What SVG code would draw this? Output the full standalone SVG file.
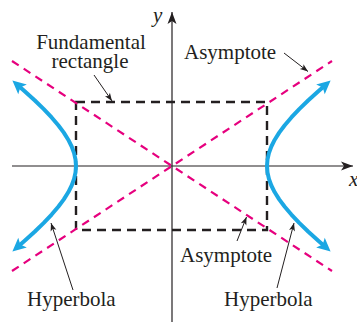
<svg xmlns="http://www.w3.org/2000/svg" width="357" height="322" viewBox="0 0 357 322">
<style>
  text{font-family:'Liberation Serif','Times New Roman','DejaVu Serif',serif;font-size:21px;fill:#231f20}
  .var{font-style:italic}
  .axis{stroke:#231f20;stroke-width:1.2;fill:none}
  .asym{stroke:#e6007e;stroke-width:2.2;stroke-dasharray:8 6;fill:none}
  .rect{stroke:#231f20;stroke-width:2.4;stroke-dasharray:9 6;fill:none}
  .hyp{stroke:#1ba7e3;stroke-width:4;fill:none;stroke-linejoin:round}
  .lead{stroke:#231f20;stroke-width:1;fill:none}
</style>
<defs>
  <marker id="axarrow" viewBox="-14 -6 16 12" markerWidth="16" markerHeight="12" refX="0" refY="0" orient="auto" markerUnits="userSpaceOnUse" overflow="visible">
    <path d="M0,0 L-12,-4.5 L-9,0 L-12,4.5 Z" fill="#231f20"/>
  </marker>
  <marker id="hyparrow" viewBox="-6 -7 18 14" markerWidth="18" markerHeight="14" refX="0" refY="0" orient="auto-start-reverse" markerUnits="userSpaceOnUse" overflow="visible">
    <path d="M9.5,0 L-4,-6.5 L-1,0 L-4,6.5 Z" fill="#1ba7e3"/>
  </marker>
  <marker id="leadarrow" viewBox="-10 -4 12 8" markerWidth="12" markerHeight="8" refX="0" refY="0" orient="auto" markerUnits="userSpaceOnUse" overflow="visible">
    <path d="M0,0 L-8,-3 L-6,0 L-8,3 Z" fill="#231f20"/>
  </marker>
</defs>

<g id="axes">
  <line class="axis" x1="12" y1="166" x2="353" y2="166" marker-end="url(#axarrow)"/>
  <line class="axis" x1="172" y1="322" x2="172" y2="12" marker-end="url(#axarrow)"/>
  <text class="var" x="349" y="186" font-family="Liberation Serif, serif">x</text>
  <text class="var" x="153" y="22" font-family="Liberation Serif, serif">y</text>
</g>

<g id="fundamental-rectangle">
  <rect class="rect" x="76" y="102" width="191" height="128"/>
</g>

<g id="asymptotes">
  <line class="asym" x1="12" y1="61" x2="332" y2="271"/>
  <line class="asym" x1="12" y1="271" x2="332" y2="61"/>
</g>

<g id="hyperbola-left">
  <path class="hyp" marker-start="url(#hyparrow)" marker-end="url(#hyparrow)" d="M19.53,245.23 L24.13,241.21 L34.64,231.7 L43.78,222.84 L51.63,214.55 L58.28,206.75 L63.81,199.35 L68.25,192.29 L71.67,185.49 L74.08,178.88 L75.52,172.41 L76,166 L75.52,159.59 L74.08,153.12 L71.67,146.51 L68.25,139.71 L63.81,132.65 L58.28,125.25 L51.63,117.45 L43.78,109.16 L34.64,100.3 L24.13,90.79 L19.53,86.77"/>
</g>

<g id="hyperbola-right">
  <path class="hyp" marker-start="url(#hyparrow)" marker-end="url(#hyparrow)" d="M323.47,245.23 L318.87,241.21 L308.36,231.7 L299.22,222.84 L291.37,214.55 L284.72,206.75 L279.19,199.35 L274.75,192.29 L271.33,185.49 L268.92,178.88 L267.48,172.41 L267,166 L267.48,159.59 L268.92,153.12 L271.33,146.51 L274.75,139.71 L279.19,132.65 L284.72,125.25 L291.37,117.45 L299.22,109.16 L308.36,100.3 L318.87,90.79 L323.47,86.77"/>
</g>

<g id="connectors">
  <line class="lead" x1="94" y1="75" x2="112" y2="101" marker-end="url(#leadarrow)"/>
  <line class="lead" x1="284" y1="53" x2="308" y2="71.5" marker-end="url(#leadarrow)"/>
  <line class="lead" x1="237" y1="241" x2="246.5" y2="217" marker-end="url(#leadarrow)"/>
  <line class="lead" x1="73" y1="290" x2="51" y2="223" marker-end="url(#leadarrow)"/>
  <line class="lead" x1="277" y1="288" x2="294" y2="223" marker-end="url(#leadarrow)"/>
</g>

<g id="label-fundamental-rectangle">
  <text x="91" y="48.5" text-anchor="middle" font-family="Liberation Serif, serif">Fundamental</text>
  <text x="90" y="67.5" text-anchor="middle" font-family="Liberation Serif, serif">rectangle</text>
</g>
<g id="label-asymptote-top">
  <text x="184" y="59" font-family="Liberation Serif, serif">Asymptote</text>
</g>
<g id="label-asymptote-bottom">
  <text x="180" y="262" font-family="Liberation Serif, serif">Asymptote</text>
</g>
<g id="label-hyperbola-left">
  <text x="27" y="305.5" font-family="Liberation Serif, serif">Hyperbola</text>
</g>
<g id="label-hyperbola-right">
  <text x="224" y="305.5" font-family="Liberation Serif, serif">Hyperbola</text>
</g>
</svg>
